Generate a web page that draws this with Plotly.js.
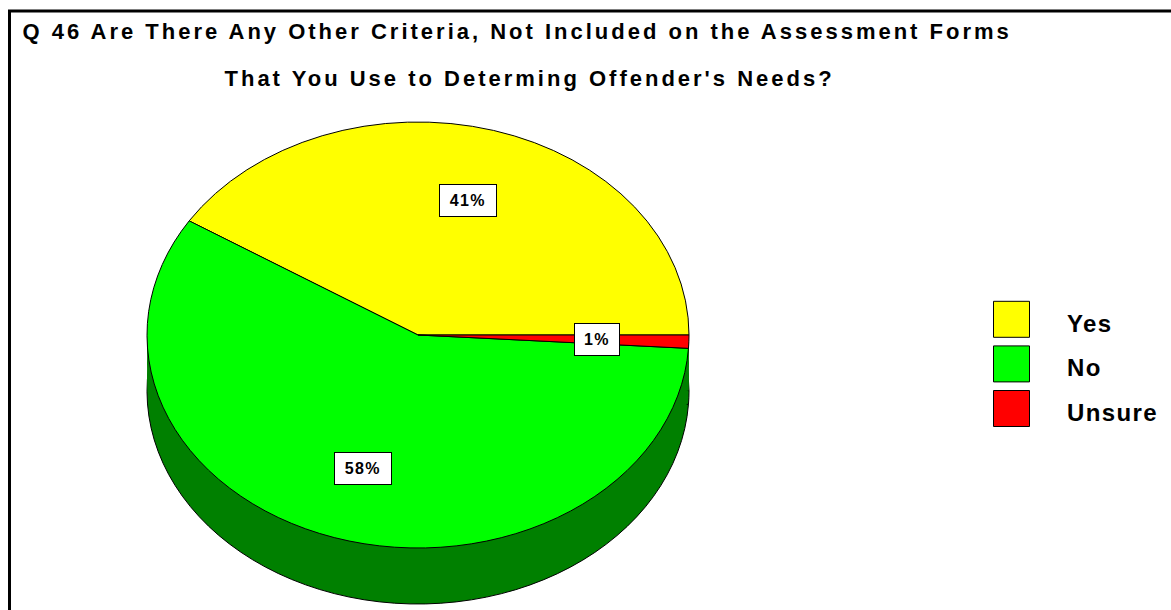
<!DOCTYPE html>
<html>
<head>
<meta charset="utf-8">
<script src="https://cdn.plot.ly/plotly-3.0.1.min.js"></script>
<style>
  html, body { margin: 0; padding: 0; overflow: hidden; background: #fff; }
  #chart { width: 1171px; height: 700px; }
  .pielayer { transform: scaleY(0.786); transform-origin: 0px 335px; }
  .pielayer path { vector-effect: non-scaling-stroke; }
  .main-svg text { letter-spacing: 1.4px; }
  .annotation[data-index="3"] text, .annotation[data-index="4"] text { letter-spacing: 3px; }
  .legend .legendpie { transform: translate(34.5px, 0px) scale(3); vector-effect: non-scaling-stroke; }
  .legendtext { font-size: 24px !important; letter-spacing: 1.4px; }
</style>
</head>
<body>
<div id="chart"></div>
<script>
// ---- data ----
const categories = ["Yes", "No", "Unsure"];
const percents = [41, 58, 1];
const colors = ["#ffff00", "#00ff00", "#ff0000"];
const titleLines = [
  "Q 46 Are There Any Other Criteria, Not Included on the Assessment Forms",
  "That You Use to Determing Offender's Needs?"
];

// ---- layout constants (screen px) ----
const W = 1171, H = 700;
const cx = 418, cy = 335, rx = 271, ry = 213;
const squash = ry / rx;            // vertical squash applied to pie layer (css)
const rimDepths = [56, 42, 28, 14]; // 3D side wall layers

function domainFor(depth) {
  const pcy = cy + depth / squash;
  return {
    x: [(cx - rx) / W, (cx + rx) / W],
    y: [1 - (pcy + rx) / H, 1 - (pcy - rx) / H]
  };
}

const total = percents.reduce((a, b) => a + b, 0);
// first slice (Yes) should start at 3 o'clock and run counterclockwise
const pieRotation = 90 - percents[0] / total * 360;
const pieDirection = "counterclockwise";

const traces = [];
rimDepths.forEach((d, i) => {
  traces.push({
    type: "pie",
    labels: categories,
    values: percents,
    sort: false,
    direction: pieDirection,
    rotation: pieRotation,
    textinfo: "none",
    hoverinfo: "skip",
    showlegend: false,
    domain: domainFor(d),
    marker: {
      colors: categories.map(() => "#008000"),
      line: { color: i === 0 ? "#000000" : "#008000", width: i === 0 ? 1 : 0 }
    }
  });
});
traces.push({
  type: "pie",
  labels: categories,
  values: percents,
  sort: false,
  direction: pieDirection,
  rotation: pieRotation,
  textinfo: "none",
  hoverinfo: "label+percent",
  domain: domainFor(0),
  marker: { colors: colors, line: { color: "#000000", width: 1 } }
});

// percent label boxes, positioned at the mid-angle of each slice
const annotations = [];
let cum = 0;
const f = 0.66;
percents.forEach((v) => {
  const mid = (cum + v / 2) / total * 2 * Math.PI;
  cum += v;
  const px = cx + f * rx * Math.cos(mid);
  const py = cy - f * ry * Math.sin(mid);
  const txt = v + "%";
  annotations.push({
    xref: "paper", yref: "paper",
    x: px / W, y: 1 - py / H,
    xanchor: "center", yanchor: "middle",
    text: txt,
    showarrow: false,
    bgcolor: "#ffffff",
    bordercolor: "#000000",
    borderwidth: 1,
    borderpad: 0,
    width: 11.5 * txt.length + 21, height: 31,
    font: { family: "Liberation Sans, Arial, sans-serif", size: 16, weight: 700, color: "#000" }
  });
});
// title lines
const titlePos = [[516.5, 32], [529.5, 78]];
titleLines.forEach((t, i) => {
  annotations.push({
    xref: "paper", yref: "paper",
    x: titlePos[i][0] / W, y: 1 - titlePos[i][1] / H,
    xanchor: "center", yanchor: "middle",
    text: t, showarrow: false,
    font: { family: "Liberation Sans, Arial, sans-serif", size: 22, weight: 700, color: "#000" }
  });
});

const layout = {
  width: W, height: H,
  margin: { l: 0, r: 0, t: 0, b: 0, autoexpand: false },
  paper_bgcolor: "#ffffff",
  showlegend: true,
  legend: {
    x: 977 / W, y: 1 - 292 / H, xanchor: "left", yanchor: "top",
    itemwidth: 80,
    bgcolor: "rgba(0,0,0,0)",
    font: { family: "Liberation Sans, Arial, sans-serif", size: 32, weight: 700, color: "#000" },
    traceorder: "normal"
  },
  annotations: annotations,
  shapes: [{
    type: "rect", xref: "paper", yref: "paper",
    x0: 9.5 / W, x1: 1.2, y0: -0.2, y1: 1 - 11 / H,
    line: { color: "#000", width: 3 }, fillcolor: "rgba(0,0,0,0)"
  }]
};

Plotly.newPlot("chart", traces, layout, { staticPlot: true, displayModeBar: false });
</script>
</body>
</html>
